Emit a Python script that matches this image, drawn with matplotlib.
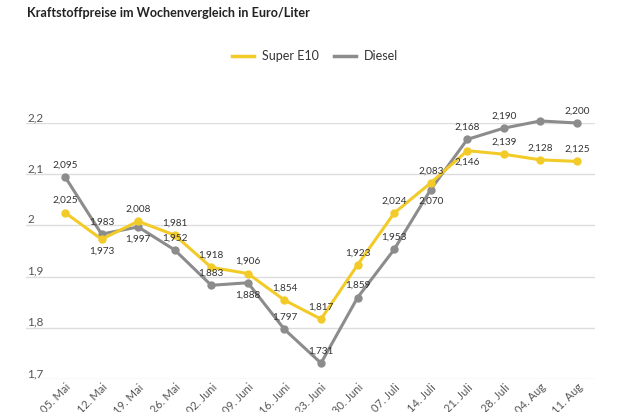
import matplotlib.pyplot as plt
from matplotlib.lines import Line2D

plt.rcParams['font.family'] = ['Lato', 'DejaVu Sans']

# data
weeks = ["05. Mai", "12. Mai", "19. Mai", "26. Mai", "02. Juni", "09. Juni",
         "16. Juni", "23. Juni", "30. Juni", "07. Juli", "14. Juli", "21. Juli",
         "28. Juli", "04. Aug", "11. Aug"]
super_e10 = [2.025, 1.973, 2.008, 1.981, 1.918, 1.906, 1.854, 1.817,
             1.923, 2.024, 2.083, 2.146, 2.139, 2.128, 2.125]
diesel = [2.095, 1.983, 1.997, 1.952, 1.883, 1.888, 1.797, 1.731,
          1.859, 1.953, 2.070, 2.168, 2.190, 2.204, 2.200]
# label above (1) or below (-1) the point
e10_side = [1, -1, 1, 1, 1, 1, 1, 1, 1, 1, 1, -1, 1, 1, 1]
diesel_side = [1, 1, -1, 1, 1, -1, 1, 1, 1, 1, -1, 1, 1, 1, 1]
yticks = [1.7, 1.8, 1.9, 2.0, 2.1, 2.2]

yellow = "#f2cb28"
grey = "#8c8c8c"

fig = plt.figure(figsize=(6.3, 4.12), dpi=100)
ax = fig.add_axes([26 / 630, (412 - 379) / 412, 569 / 630, 256 / 412])

x = list(range(len(weeks)))
ax.plot(x, diesel, color=grey, lw=2.2, marker="o", ms=5, zorder=3, clip_on=False)
ax.plot(x, super_e10, color=yellow, lw=2.2, marker="o", ms=5, zorder=4, clip_on=False)

# value labels
for vals, sides in [(super_e10, e10_side), (diesel, diesel_side)]:
    for i, (v, s) in enumerate(zip(vals, sides)):
        ax.annotate("{:.3f}".format(v).replace(".", ","), (i, v),
                    xytext=(0, 8.6 * s), textcoords="offset points",
                    ha="center", va="center", fontsize=7.2, color="#333333",
                    zorder=5)

ax.set_xlim(-(65 - 26) / 36.57, 14 + (595 - 577) / 36.57)
ax.set_ylim(1.7, 2.2)
ax.set_yticks(yticks)
ax.set_yticklabels([])
ax.tick_params(axis="y", length=0)
ax.grid(axis="y", color="#dddddd", lw=1)
ax.set_axisbelow(True)
for t in yticks:
    lab = "{:g}".format(t).replace(".", ",")
    ax.text(1 / 569, t, lab, transform=ax.get_yaxis_transform(),
            ha="left", va="bottom", fontsize=8.5, color="#555555")

ax.set_xticks(x)
ax.set_xticklabels(weeks, rotation=45, ha="right", rotation_mode="anchor",
                   fontsize=8, color="#555555")
ax.tick_params(axis="x", length=0, pad=2)
for sp in ax.spines.values():
    sp.set_visible(False)

fig.text(27 / 630, 1 - 13 / 412, "Kraftstoffpreise im Wochenvergleich in Euro/Liter",
         fontsize=9.1, fontweight="bold", color="#222222", va="center", ha="left")

handles = [Line2D([], [], color=yellow, lw=2.5), Line2D([], [], color=grey, lw=2.5)]
fig.legend(handles, ["Super E10", "Diesel"], loc="center",
           bbox_to_anchor=(315 / 630, 1 - 56 / 412), ncol=2, frameon=False,
           fontsize=9, handlelength=1.8, columnspacing=1.2, handletextpad=0.6,
           labelcolor="#333333")

fig.savefig("out.png", dpi=100)
